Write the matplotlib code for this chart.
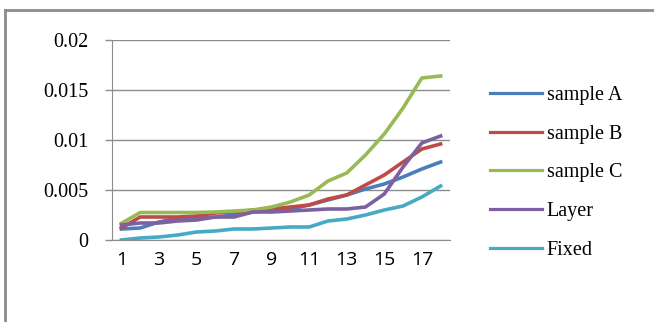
import matplotlib
matplotlib.use("Agg")
import matplotlib.pyplot as plt
from matplotlib.lines import Line2D

categories = list(range(1, 19))
tick_labels = [str(i) if i % 2 == 1 else "" for i in categories]

sample_a = [0.0011, 0.0012, 0.0018, 0.0022, 0.0022, 0.0023, 0.0025, 0.0028, 0.0030,
            0.0031, 0.0035, 0.0040, 0.0045, 0.0051, 0.0056, 0.0063, 0.0071, 0.0078]
sample_b = [0.0012, 0.0023, 0.0023, 0.0023, 0.0024, 0.0027, 0.0028, 0.0030, 0.0031,
            0.0033, 0.0035, 0.0041, 0.0045, 0.0055, 0.0065, 0.0078, 0.0091, 0.0096]
sample_c = [0.00166, 0.00275, 0.00275, 0.00275, 0.00275, 0.0028, 0.0029, 0.0030, 0.0033,
            0.0038, 0.0045, 0.0059, 0.0067, 0.0085, 0.0106, 0.0132, 0.0162, 0.0164]
layer = [0.0015, 0.0017, 0.0017, 0.0019, 0.0020, 0.0023, 0.0023, 0.0028, 0.0028,
         0.0029, 0.0030, 0.0031, 0.0031, 0.0033, 0.0046, 0.0073, 0.0097, 0.0104]
fixed = [0.0000, 0.0002, 0.0003, 0.0005, 0.0008, 0.0009, 0.0011, 0.0011, 0.0012,
         0.0013, 0.0013, 0.0019, 0.0021, 0.0025, 0.0030, 0.0034, 0.0043, 0.0054]

series_names = ["sample A", "sample B", "sample C", "Layer", "Fixed"]
series_values = [sample_a, sample_b, sample_c, layer, fixed]
colors = ["#4A7EBB", "#BE4B48", "#98B954", "#7D60A0", "#46AAC5"]

fig = plt.figure(figsize=(6.54, 3.22), dpi=100)
ax = fig.add_axes([112/654, 1-240/322, (450-112)/654, 200/322])

for name, vals, c in zip(series_names, series_values, colors):
    ax.plot(categories, vals, color=c, lw=2.6, label=name, solid_joinstyle="round")

ax.set_xlim(0.5, 18.5)
ax.set_ylim(0, 0.02)
ax.set_yticks([0, 0.005, 0.01, 0.015, 0.02])
ax.set_yticklabels(["0", "0.005", "0.01", "0.015", "0.02"], fontfamily="Liberation Serif", fontsize=14.5)
ax.set_xticks(categories)
ax.set_xticklabels(tick_labels, fontfamily="Open Sans", fontsize=14)
ax.tick_params(axis="x", length=0, pad=8)
ax.tick_params(axis="y", length=5, color="#8c8c8c", width=1, pad=12)
ax.grid(axis="y", color="#8c8c8c", lw=1)
ax.set_axisbelow(True)
for s in ["top", "right"]:
    ax.spines[s].set_visible(False)
ax.spines["left"].set_color("#8c8c8c")
ax.spines["bottom"].set_color("#8c8c8c")

handles = [Line2D([], [], color=c, lw=2.3) for c in colors]
leg = fig.legend(handles, series_names, loc="upper left", bbox_to_anchor=(472/654, 1-68/322),
                 frameon=False, prop={"family": "Liberation Serif", "size": 14.5},
                 handlelength=2.6, handletextpad=0.2, labelspacing=0.97)

# outer frame (top and left visible)
fig.add_artist(Line2D([5/654, 5/654], [0, 1-10/322], transform=fig.transFigure, color="#8c8c8c", lw=2))
fig.add_artist(Line2D([5/654, 1], [1-10/322, 1-10/322], transform=fig.transFigure, color="#8c8c8c", lw=2))

fig.savefig("out.png", dpi=100)
